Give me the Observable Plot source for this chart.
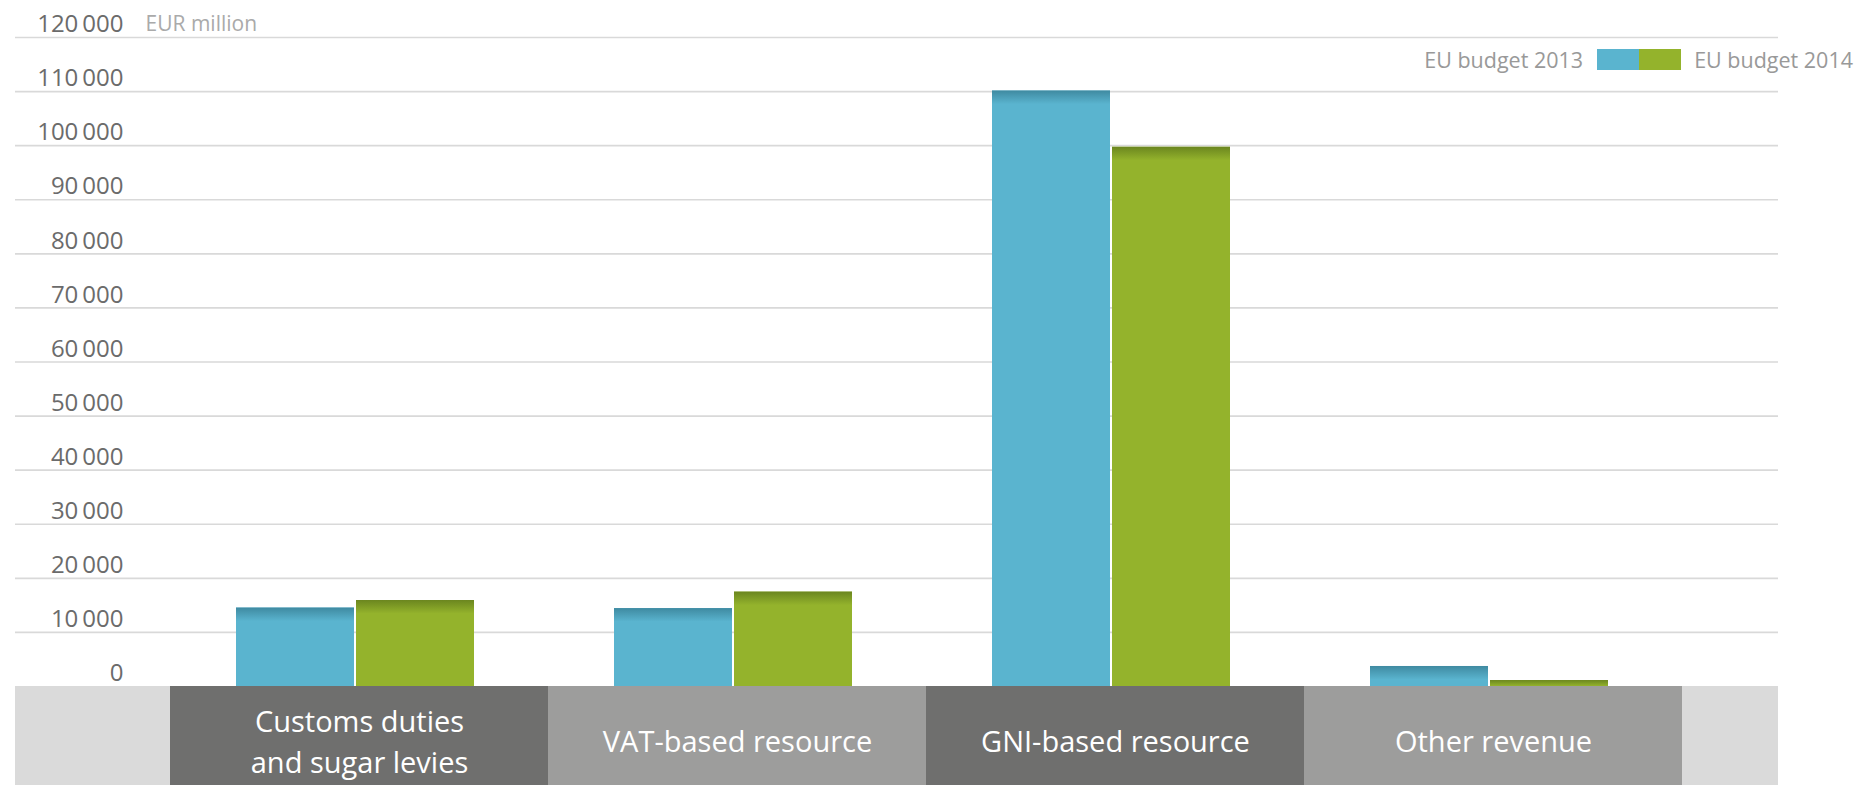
<!DOCTYPE html>
<html>
<head>
<meta charset="utf-8">
<script src="https://cdn.jsdelivr.net/npm/d3@7"></script>
<script src="https://cdn.jsdelivr.net/npm/@observablehq/plot@0.6"></script>
<style>
  html, body { margin: 0; padding: 0; background: #fff; overflow: hidden; }
  #wrap { position: relative; width: 1859px; height: 785px; font-family: "Open Sans", sans-serif; }
  #legend { position: absolute; top: 45px; right: 6px; display: flex; align-items: center; font-size: 21.5px; color: #999; white-space: nowrap; }
  #legend .sw { display: inline-block; width: 42px; height: 21px; }
</style>
</head>
<body>
<div id="wrap">
  <div id="chart"></div>
  <div id="legend">
    <span>EU budget 2013</span>
    <span class="sw" style="background:#5ab4cf;margin-left:14px"></span><span class="sw" style="background:#94b32c;margin-right:13px"></span>
    <span>EU budget 2014</span>
  </div>
</div>
<script>
// ---- data ----
const categories = ["Customs duties\nand sugar levies", "VAT-based resource", "GNI-based resource", "Other revenue"];
const budget2013 = [14500, 14400, 110100, 3700];
const budget2014 = [15900, 17450, 99700, 1100];
const yTicks = [0, 10000, 20000, 30000, 40000, 50000, 60000, 70000, 80000, 90000, 100000, 110000, 120000];
const unitLabel = "EUR million";
const seriesNames = ["EU budget 2013", "EU budget 2014"];

// ---- layout ----
const bandDepth = -18305; // data-units extent of the category band under the zero line
const shadeDepth = 2500;  // data-units depth of the darker top shading on each bar
const rows13 = categories.map((c, i) => ({cat: c, value: budget2013[i]}));
const rows14 = categories.map((c, i) => ({cat: c, value: budget2014[i]}));
const fmt = d => d === 0 ? "0" : d3.format(",")(d).replace(/,/g, "\u2009");

const blueIns = {insetLeft: 66, insetRight: 194};
const greenIns = {insetLeft: 186, insetRight: 74};

const chart = Plot.plot({
  width: 1859,
  height: 785,
  marginLeft: 15,
  marginRight: 81,
  marginTop: 37,
  marginBottom: 0,
  style: {fontFamily: "Open Sans, sans-serif", background: "#fff"},
  x: {type: "band", domain: categories, range: [170, 1682], padding: 0, axis: null},
  y: {domain: [bandDepth, 120000], axis: null},
  marks: [
    Plot.ruleY(yTicks.filter(d => d > 0), {stroke: "#d9d9d9", strokeWidth: 1.6}),
    Plot.barY([0], {y1: bandDepth, y2: 0, fill: "#dadada"}),
    Plot.barY(categories, {x: d => d, y1: bandDepth, y2: 0, fill: (d, i) => i % 2 ? "#9d9d9c" : "#6f6f6e"}),
    Plot.text(categories, {x: d => d, y: bandDepth / 2, text: d => d, fill: "#fff", fontSize: 29, lineHeight: 1.43, dy: 3}),
    Plot.barY(rows13, {x: "cat", y: "value", fill: "#5ab4cf", ...blueIns}),
    Plot.barY(rows14, {x: "cat", y: "value", fill: "#94b32c", ...greenIns}),
    Plot.barY(rows13, {x: "cat", y1: d => Math.max(0, d.value - shadeDepth), y2: "value", fill: "url(#topBlue)", ...blueIns}),
    Plot.barY(rows14, {x: "cat", y1: d => Math.max(0, d.value - shadeDepth), y2: "value", fill: "url(#topGreen)", ...greenIns}),
    Plot.text(yTicks, {y: d => d, text: fmt, frameAnchor: "left", textAnchor: "end", dx: 108, dy: -13, fill: "#6b6b6b", fontSize: 24}),
    Plot.text([unitLabel], {y: 120000, text: d => d, frameAnchor: "left", textAnchor: "start", dx: 130, dy: -13, fill: "#aaaaaa", fontSize: 21})
  ]
});

chart.insertAdjacentHTML("afterbegin", `<defs>
  <linearGradient id="topBlue" x1="0" y1="0" x2="0" y2="1">
    <stop offset="0" stop-color="#3f8aa1"/><stop offset="1" stop-color="#5ab4cf"/>
  </linearGradient>
  <linearGradient id="topGreen" x1="0" y1="0" x2="0" y2="1">
    <stop offset="0" stop-color="#6b861f"/><stop offset="1" stop-color="#94b32c"/>
  </linearGradient>
</defs>`);

document.getElementById("chart").appendChild(chart);
</script>
</body>
</html>
